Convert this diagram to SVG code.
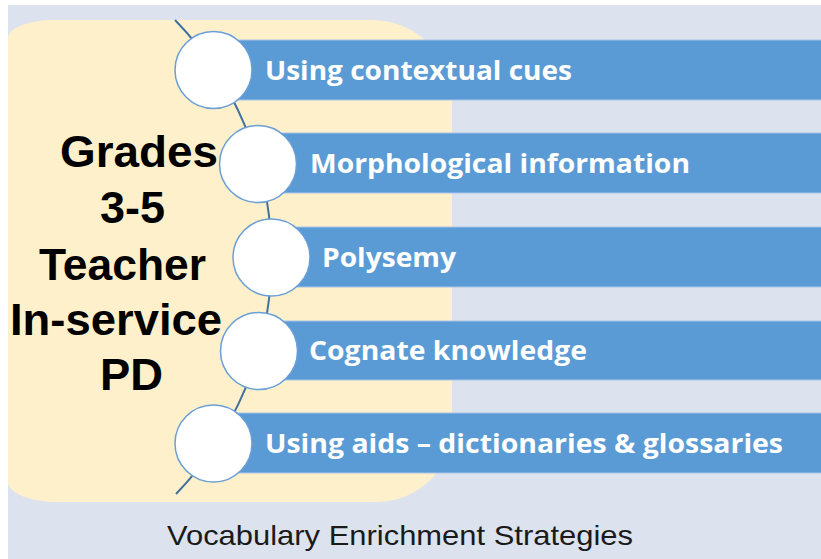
<svg xmlns="http://www.w3.org/2000/svg" width="821" height="559" viewBox="0 0 821 559">
<style>
.bar{fill:#5b9bd5;stroke:#a7c4e6;stroke-width:1}
.dot{fill:#ffffff;stroke:#6a9fd6;stroke-width:1.5}
.lbl{font-family:"Open Sans","Noto Sans",sans-serif;font-weight:bold;font-size:27px;fill:#ffffff}
.title{font-family:"Liberation Sans",Arial,sans-serif;font-weight:bold;font-size:44px;fill:#000000;text-anchor:start}
.cap{font-family:"Liberation Sans",Arial,sans-serif;font-size:28px;fill:#1a1a1a}
</style>
<rect x="0" y="0" width="821" height="559" fill="#ffffff"/>
<rect x="8" y="5" width="813" height="554" fill="#dce3ee"/>
<path d="M55,20 L372,20 A80,80 0 0 1 452,100 L452,427 A75,75 0 0 1 377,502 L58,502 A50,20 0 0 1 8,482 L8,38 A47,18 0 0 1 55,20 Z" fill="#fff0cc"/>
<g id="title">
<text class="title" x="60" y="167" textLength="158" lengthAdjust="spacingAndGlyphs">Grades</text>
<text class="title" x="100" y="223" textLength="65" lengthAdjust="spacingAndGlyphs">3-5</text>
<text class="title" x="39" y="280" textLength="167" lengthAdjust="spacingAndGlyphs">Teacher</text>
<text class="title" x="10" y="335" textLength="212" lengthAdjust="spacingAndGlyphs">In-service</text>
<text class="title" x="100" y="390" textLength="63" lengthAdjust="spacingAndGlyphs">PD</text>
</g>
<g id="connectors">
<path d="M175,20 A340.5,340.5 0 0 1 176,494" fill="none" stroke="#41719c" stroke-width="2"/>
</g>
<g id="item1">
<rect class="bar" x="213" y="40" width="620" height="60"/>
<circle class="dot" cx="213.5" cy="70" r="38.5"/>
<text class="lbl" x="265" y="80" textLength="307" lengthAdjust="spacingAndGlyphs">Using contextual cues</text>
</g>
<g id="item2">
<rect class="bar" x="258" y="133" width="575" height="60"/>
<circle class="dot" cx="258" cy="164" r="38.5"/>
<text class="lbl" x="310" y="173" textLength="380" lengthAdjust="spacingAndGlyphs">Morphological information</text>
</g>
<g id="item3">
<rect class="bar" x="271" y="227" width="562" height="60"/>
<circle class="dot" cx="271.5" cy="257.5" r="38.5"/>
<text class="lbl" x="322" y="267" textLength="134" lengthAdjust="spacingAndGlyphs">Polysemy</text>
</g>
<g id="item4">
<rect class="bar" x="259" y="321" width="574" height="59"/>
<circle class="dot" cx="259" cy="351" r="38.5"/>
<text class="lbl" x="309" y="360" textLength="278" lengthAdjust="spacingAndGlyphs">Cognate knowledge</text>
</g>
<g id="item5">
<rect class="bar" x="213" y="413" width="620" height="60"/>
<circle class="dot" cx="213.5" cy="443.5" r="38.5"/>
<text class="lbl" x="265" y="453" textLength="518" lengthAdjust="spacingAndGlyphs">Using aids – dictionaries &amp; glossaries</text>
</g>
<g id="caption">
<text class="cap" x="167" y="545" textLength="466" lengthAdjust="spacingAndGlyphs">Vocabulary Enrichment Strategies</text>
</g>
</svg>
